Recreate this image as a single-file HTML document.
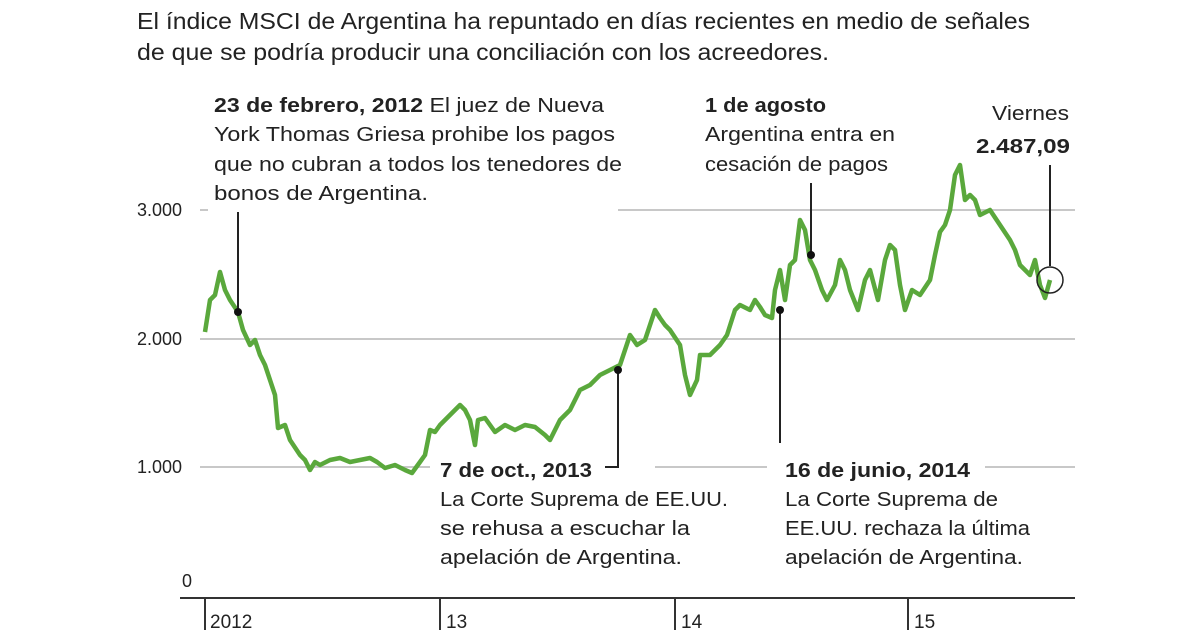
<!DOCTYPE html>
<html><head><meta charset="utf-8"><style>
body{margin:0;background:#fff;width:1200px;height:630px;overflow:hidden;font-family:"Liberation Sans",sans-serif;color:#222}
svg text{font-family:"Liberation Sans",sans-serif;fill:#222}
</style></head><body>
<svg width="1200" height="630" xmlns="http://www.w3.org/2000/svg">
<text x="137" y="29" font-size="23" fill="#333" textLength="893" lengthAdjust="spacingAndGlyphs">El índice MSCI de Argentina ha repuntado en días recientes en medio de señales</text>
<text x="137" y="60" font-size="23" fill="#333" textLength="692" lengthAdjust="spacingAndGlyphs">de que se podría producir una conciliación con los acreedores.</text>
<g stroke="#c8c8c8" stroke-width="2">
<line x1="200" y1="210" x2="208" y2="210"/><line x1="618" y1="210" x2="1075" y2="210"/>
<line x1="200" y1="339" x2="1075" y2="339"/>
<line x1="200" y1="467" x2="430" y2="467"/><line x1="655" y1="467" x2="767" y2="467"/><line x1="985" y1="467" x2="1075" y2="467"/>
</g>
<g font-size="18">
<text x="137" y="216" fill="#444">3.000</text>
<text x="137" y="345" fill="#444">2.000</text>
<text x="137" y="473" fill="#444">1.000</text>
<text x="182" y="587" fill="#444">0</text>
</g>
<line x1="180" y1="598" x2="1075" y2="598" stroke="#333" stroke-width="2"/>
<g stroke="#333" stroke-width="2"><line x1="205" y1="598" x2="205" y2="630"/><line x1="440" y1="598" x2="440" y2="630"/><line x1="675" y1="598" x2="675" y2="630"/><line x1="908" y1="598" x2="908" y2="630"/></g>
<g font-size="19"><text x="210" y="628">2012</text><text x="446" y="628">13</text><text x="681" y="628">14</text><text x="914" y="628">15</text></g>
<polyline fill="none" stroke="#5aa83c" stroke-width="4.5" stroke-linejoin="round" points="205,332 210,300 215,295 220,272 225,290 230,300 238,312 243,330 250,345 255,340 260,355 265,365 270,380 275,395 278,428 285,425 290,440 300,455 305,460 310,470 315,462 320,465 330,460 340,458 350,462 360,460 370,458 377,462 385,468 395,465 405,470 412,473 420,462 425,455 430,430 435,432 440,425 450,415 460,405 465,410 470,420 475,445 478,420 485,418 495,432 505,425 515,430 525,425 535,427 545,435 550,440 555,430 560,420 565,415 570,410 580,390 590,385 600,375 610,370 620,365 625,350 630,335 637,345 645,340 655,310 660,318 665,325 670,330 680,345 685,375 690,395 697,380 700,355 710,355 720,345 727,335 735,310 740,305 750,310 755,300 760,307 765,315 772,318 775,290 780,270 785,300 790,265 795,260 800,220 805,230 810,260 815,270 822,290 827,300 835,285 840,260 845,270 850,290 858,310 865,280 870,270 878,300 885,260 890,245 895,250 900,285 905,310 912,290 920,295 930,280 935,255 940,232 945,225 950,210 955,175 960,165 965,200 970,195 975,200 980,215 990,210 1000,225 1010,240 1015,250 1020,265 1030,275 1035,260 1040,285 1045,298 1050,280"/>
<g stroke="#222" stroke-width="2" fill="none">
<line x1="238" y1="212" x2="238" y2="312"/>
<polyline points="618,370 618,467 605,467"/>
<line x1="780" y1="310" x2="780" y2="443"/>
<line x1="811" y1="183" x2="811" y2="255"/>
<line x1="1050" y1="165" x2="1050" y2="266"/>
<circle cx="1050" cy="280" r="13" stroke-width="1.5"/>
</g>
<g fill="#111"><circle cx="238" cy="312" r="4"/><circle cx="618" cy="370" r="4"/><circle cx="780" cy="310" r="4"/><circle cx="811" cy="255" r="4"/></g>
<g font-size="20">
<text x="214" y="112" textLength="390" lengthAdjust="spacingAndGlyphs"><tspan font-weight="bold">23 de febrero, 2012</tspan> El juez de Nueva</text>
<text x="214" y="141" textLength="401" lengthAdjust="spacingAndGlyphs">York Thomas Griesa prohibe los pagos</text>
<text x="214" y="171" textLength="408" lengthAdjust="spacingAndGlyphs">que no cubran a todos los tenedores de</text>
<text x="214" y="200" textLength="214" lengthAdjust="spacingAndGlyphs">bonos de Argentina.</text>
<text x="705" y="112" font-weight="bold" textLength="121" lengthAdjust="spacingAndGlyphs">1 de agosto</text>
<text x="705" y="141" textLength="190" lengthAdjust="spacingAndGlyphs">Argentina entra en</text>
<text x="705" y="171" textLength="183" lengthAdjust="spacingAndGlyphs">cesación de pagos</text>
<text x="992" y="120" fill="#444" textLength="77" lengthAdjust="spacingAndGlyphs">Viernes</text>
<text x="976" y="153" font-weight="bold" textLength="94" lengthAdjust="spacingAndGlyphs">2.487,09</text>
<text x="440" y="477" font-weight="bold" textLength="152" lengthAdjust="spacingAndGlyphs">7 de oct., 2013</text>
<text x="440" y="506" textLength="288" lengthAdjust="spacingAndGlyphs">La Corte Suprema de EE.UU.</text>
<text x="440" y="535" textLength="250" lengthAdjust="spacingAndGlyphs">se rehusa a escuchar la</text>
<text x="440" y="564" textLength="242" lengthAdjust="spacingAndGlyphs">apelación de Argentina.</text>
<text x="785" y="477" font-weight="bold" textLength="185" lengthAdjust="spacingAndGlyphs">16 de junio, 2014</text>
<text x="785" y="506" textLength="213" lengthAdjust="spacingAndGlyphs">La Corte Suprema de</text>
<text x="785" y="535" textLength="245" lengthAdjust="spacingAndGlyphs">EE.UU. rechaza la última</text>
<text x="785" y="564" textLength="238" lengthAdjust="spacingAndGlyphs">apelación de Argentina.</text>
</g>
</svg>
</body></html>
